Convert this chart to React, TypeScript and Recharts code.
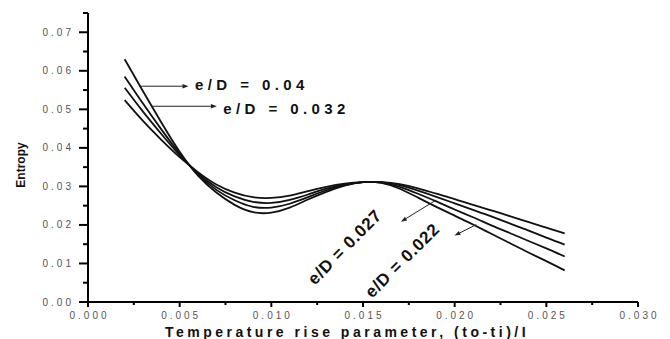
import { LineChart, Line, XAxis, YAxis, ReferenceLine, ReferenceDot } from 'recharts';

// temperature rise parameter (to-ti)/I
const xValues = [
  0.002, 0.003, 0.004, 0.005, 0.006, 0.007, 0.008, 0.009, 0.01, 0.011, 0.012, 0.013, 0.014,
  0.015, 0.016, 0.017, 0.018, 0.019, 0.02, 0.021, 0.022, 0.023, 0.024, 0.025, 0.026,
];

// entropy for each e/D curve
const entropyA = [
  0.063, 0.0547, 0.0466, 0.039, 0.0328, 0.0284, 0.0252, 0.0233, 0.0232, 0.0245, 0.0266, 0.0286,
  0.0302, 0.0311, 0.0309, 0.0294, 0.0271, 0.0247, 0.0224, 0.0201, 0.0177, 0.0153, 0.0129, 0.0106,
  0.0082,
];
const entropyB = [
  0.0585, 0.0515, 0.0448, 0.0385, 0.0331, 0.0291, 0.0264, 0.0247, 0.0245, 0.0255, 0.0272, 0.029,
  0.0303, 0.0311, 0.031, 0.0299, 0.0281, 0.0261, 0.024, 0.022, 0.0199, 0.0179, 0.0159, 0.0139,
  0.0118,
];
const entropyC = [
  0.0556, 0.0494, 0.0436, 0.0381, 0.0334, 0.0298, 0.0274, 0.026, 0.0257, 0.0265, 0.0279, 0.0294,
  0.0305, 0.0311, 0.0311, 0.0303, 0.0289, 0.0273, 0.0256, 0.0239, 0.0222, 0.0204, 0.0186, 0.0167,
  0.0149,
];
const entropyD = [
  0.0524, 0.047, 0.0421, 0.0376, 0.0337, 0.0305, 0.0284, 0.0272, 0.027, 0.0276, 0.0288, 0.0299,
  0.0307, 0.0311, 0.0311, 0.0306, 0.0295, 0.0281, 0.0267, 0.0252, 0.0238, 0.0223, 0.0208, 0.0193,
  0.0178,
];

const xTicks = [0, 0.0025, 0.005, 0.0075, 0.01, 0.0125, 0.015, 0.0175, 0.02, 0.0225, 0.025, 0.0275, 0.03];
const yTicks = [
  0, 0.005, 0.01, 0.015, 0.02, 0.025, 0.03, 0.035, 0.04, 0.045, 0.05, 0.055, 0.06, 0.065, 0.07, 0.075,
];

// annotation arrows (data coords): [x1, y1, x2, y2], head at the second point
const arrows = [
  [0.00283, 0.056, 0.00548, 0.056],
  [0.00347, 0.0508, 0.00703, 0.0508],
  [0.01899, 0.02646, 0.01707, 0.02085],
  [0.02118, 0.02008, 0.01999, 0.01724],
];

// annotation labels: text, x, y, angle, anchor
const labels: [string, number, number, number, string][] = [
  ['e/D = 0.04', 0.00584, 0.0562, 0, 'start'],
  ['e/D = 0.032', 0.00738, 0.0502, 0, 'start'],
  ['e/D = 0.027', 0.01403, 0.01413, -45.5, 'middle'],
  ['e/D = 0.022', 0.01717, 0.01065, -45, 'middle'],
];

const data = xValues.map((x, i) => ({
  x,
  a: entropyA[i],
  b: entropyB[i],
  c: entropyC[i],
  d: entropyD[i],
}));

const isMajor = (v: number, step: number) => Math.abs(v / step - Math.round(v / step)) < 1e-6;

const XTick = (props: any) => {
  const { x, y, payload } = props;
  const major = isMajor(payload.value, 0.005);
  return (
    <g>
      <line x1={x} y1={y} x2={x} y2={y + (major ? 5 : 3)} stroke="#000" strokeWidth={2} />
      {major && (
        <text
          x={x + 1.5}
          y={y + 17}
          textAnchor="middle"
          fontSize={10}
          letterSpacing={3}
          fill="#555"
          fontFamily="Arial, 'Liberation Sans', sans-serif"
        >
          {payload.value.toFixed(3)}
        </text>
      )}
    </g>
  );
};

const YTick = (props: any) => {
  const { x, y, payload } = props;
  const major = isMajor(payload.value, 0.01);
  return (
    <g>
      <line x1={x} y1={y} x2={x - (major ? 9 : 5)} y2={y} stroke="#000" strokeWidth={2} />
      {major && (
        <text
          x={x - 14}
          y={y + 3.5}
          textAnchor="end"
          fontSize={10}
          letterSpacing={3}
          fill="#555"
          fontFamily="Arial, 'Liberation Sans', sans-serif"
        >
          {payload.value.toFixed(2)}
        </text>
      )}
    </g>
  );
};

const Arrow = (props: any) => {
  const { x1, y1, x2, y2 } = props;
  const ang = Math.atan2(y2 - y1, x2 - x1);
  const len = 6;
  const w = 2.2;
  const bx = x2 - len * Math.cos(ang);
  const by = y2 - len * Math.sin(ang);
  const px = -Math.sin(ang) * w;
  const py = Math.cos(ang) * w;
  return (
    <g>
      <line x1={x1} y1={y1} x2={bx} y2={by} stroke="#222" strokeWidth={1} />
      <polygon points={`${x2},${y2} ${bx + px},${by + py} ${bx - px},${by - py}`} fill="#222" />
    </g>
  );
};

export default function App() {
  const series = ['a', 'b', 'c', 'd'];
  return (
    <div style={{ position: 'absolute', left: 0, top: 0, background: '#fff' }}>
      <LineChart width={670} height={339} data={data} margin={{ top: 13, right: 32, bottom: 0, left: 0 }}>
        <XAxis
          dataKey="x"
          type="number"
          domain={[0, 0.03]}
          ticks={xTicks}
          tick={<XTick />}
          tickLine={false}
          tickSize={0}
          tickMargin={0}
          height={37}
          axisLine={{ stroke: '#000', strokeWidth: 2 }}
          interval={0}
          label={{
            content: (p: any) => {
              const vb = p.viewBox;
              return (
                <text
                  x={vb.x + vb.width / 2 - 16}
                  y={vb.y + 35}
                  textAnchor="middle"
                  fontSize={14}
                  fontWeight="bold"
                  letterSpacing={3.5}
                  fill="#111"
                  fontFamily="Arial, 'Liberation Sans', sans-serif"
                >
                  Temperature rise parameter, (to-ti)/I
                </text>
              );
            },
          }}
        />
        <YAxis
          type="number"
          domain={[0, 0.075]}
          ticks={yTicks}
          tick={<YTick />}
          tickLine={false}
          tickSize={0}
          tickMargin={0}
          width={88}
          axisLine={{ stroke: '#000', strokeWidth: 2 }}
          interval={0}
          label={{
            content: () => (
              <text
                x={25}
                y={165}
                transform="rotate(-90 25 165)"
                textAnchor="middle"
                fontSize={12}
                fontWeight="bold"
                fill="#111"
                fontFamily="Arial, 'Liberation Sans', sans-serif"
              >
                Entropy
              </text>
            ),
          }}
        />
        {series.map((k) => (
          <Line
            key={k}
            dataKey={k}
            type="natural"
            stroke="#111"
            strokeWidth={1.8}
            dot={false}
            isAnimationActive={false}
          />
        ))}
        {arrows.map((a, i) => (
          <ReferenceLine
            key={'ar' + i}
            segment={[
              { x: a[0], y: a[1] },
              { x: a[2], y: a[3] },
            ]}
            shape={<Arrow />}
          />
        ))}
        {labels.map(([t, x, y, angle, anchor], i) => (
          <ReferenceDot
            key={'lb' + i}
            x={x}
            y={y}
            r={0}
            shape={(p: any) => (
              <text
                x={p.cx}
                y={p.cy}
                dy={5}
                textAnchor={anchor as any}
                transform={`rotate(${angle} ${p.cx} ${p.cy})`}
                fontSize={angle ? 17 : 15}
                fontWeight="bold"
                letterSpacing={angle ? 0.8 : 4.4}
                fill="#111"
                fontFamily="Arial, 'Liberation Sans', sans-serif"
              >
                {t}
              </text>
            )}
          />
        ))}
      </LineChart>
    </div>
  );
}
